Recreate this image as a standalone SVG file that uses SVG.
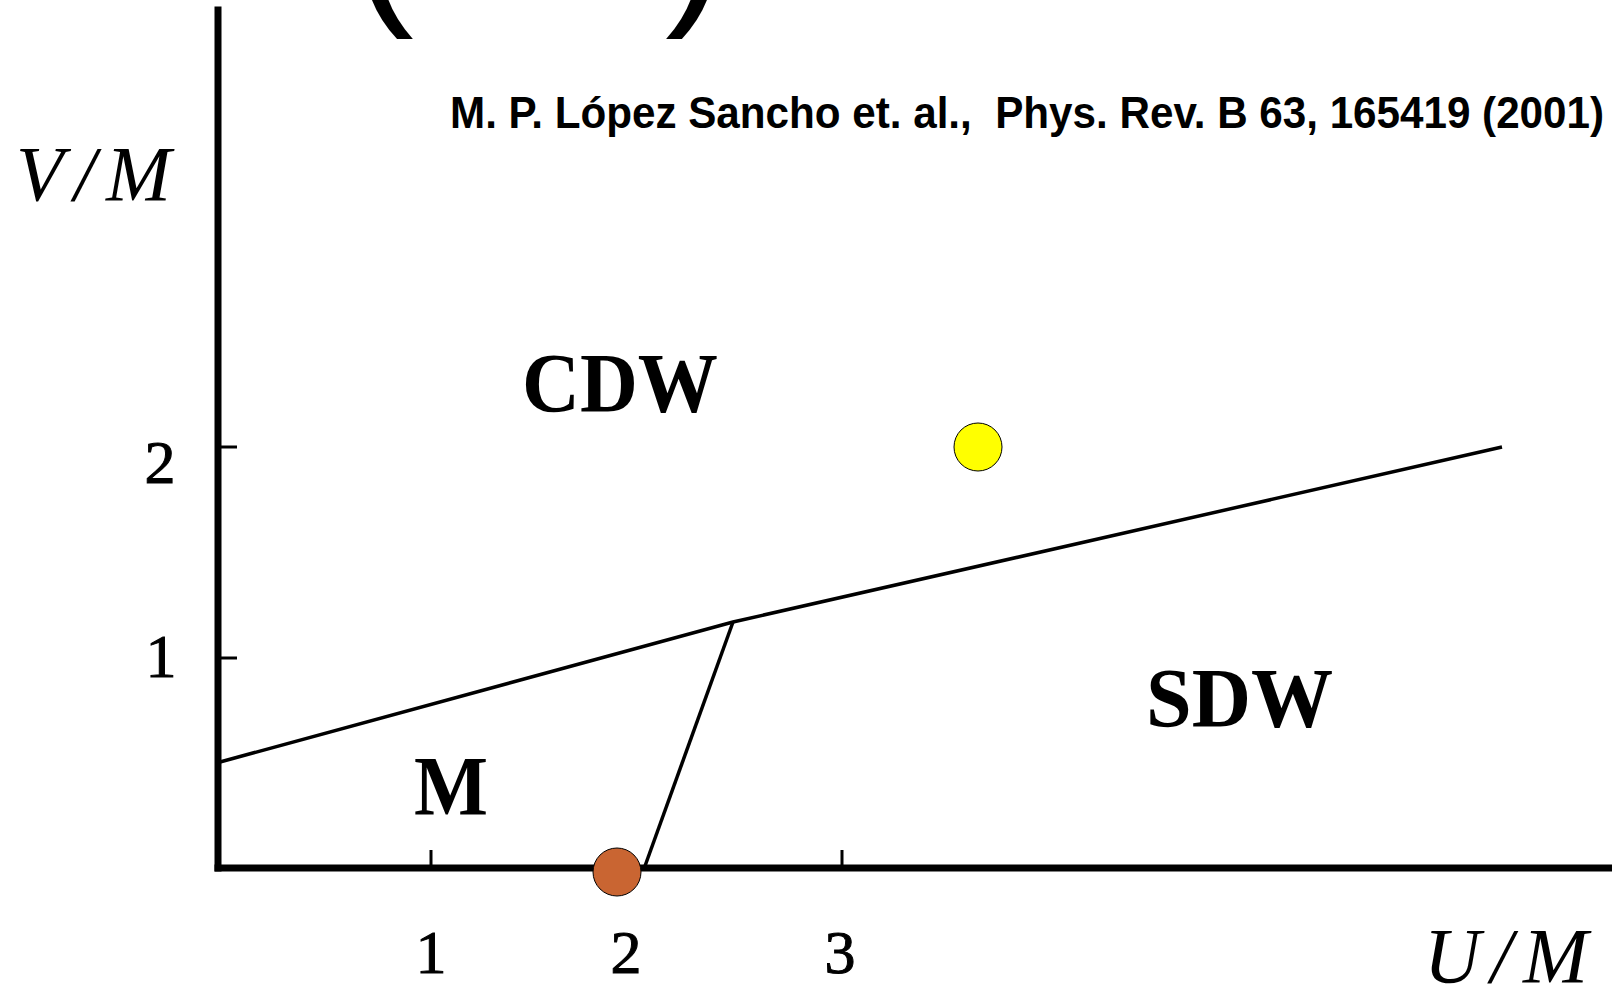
<svg xmlns="http://www.w3.org/2000/svg" width="1612" height="1002" viewBox="0 0 1612 1002">
<style>
.serif{font-family:"Liberation Serif","Times New Roman",serif;fill:#000}
.num{font-size:62px;text-anchor:middle;stroke:#000;stroke-width:1}
.region{font-size:84px;font-weight:bold}
.axlabel{font-size:78px;font-style:italic}
.cite{font-family:"Liberation Sans",Arial,sans-serif;font-weight:bold;font-size:45px;fill:#000}
.paren{font-family:"Liberation Sans",Arial,sans-serif;font-size:186px;fill:#000}
.axis{stroke:#000;stroke-width:7;fill:none;stroke-linecap:square}
.tick{stroke:#000;stroke-width:3;fill:none}
.phase{stroke:#000;stroke-width:3.5;fill:none;stroke-linejoin:miter}
</style>
<rect width="1612" height="1002" fill="#fff"/>
<g id="title">
<text class="paren" x="352" y="0">(</text>
<text class="paren" x="665" y="0">)</text>
</g>
<g id="citation">
<text class="cite" x="450" y="128" textLength="1154" lengthAdjust="spacingAndGlyphs" xml:space="preserve">M. P. López Sancho et. al.,  Phys. Rev. B 63, 165419 (2001)</text>
</g>
<g id="axes">
<line class="axis" x1="218" y1="10" x2="218" y2="868"/>
<line class="axis" x1="218" y1="868" x2="1615" y2="868"/>
<line class="tick" x1="218" y1="447" x2="237" y2="447"/>
<line class="tick" x1="218" y1="658" x2="237" y2="658"/>
<line class="tick" x1="431" y1="850" x2="431" y2="868"/>
<line class="tick" x1="842" y1="850" x2="842" y2="868"/>
<text class="serif axlabel" x="16" y="200" textLength="155" lengthAdjust="spacing">V/M</text>
<text class="serif axlabel" x="1424" y="982" textLength="164" lengthAdjust="spacing">U/M</text>
<text class="serif num" x="160" y="483">2</text>
<text class="serif num" x="161" y="677">1</text>
<text class="serif num" x="431" y="973">1</text>
<text class="serif num" x="626" y="973">2</text>
<text class="serif num" x="840" y="973">3</text>
</g>
<g id="connectors">
<polyline class="phase" points="220,762 733,622 1502,447"/>
<line class="phase" x1="733" y1="622" x2="645" y2="866"/>
</g>
<g id="labels">
<text class="serif region" x="522" y="412" textLength="196" lengthAdjust="spacingAndGlyphs">CDW</text>
<text class="serif region" x="1146" y="727" textLength="187" lengthAdjust="spacingAndGlyphs">SDW</text>
<text class="serif region" x="414" y="815" textLength="74" lengthAdjust="spacingAndGlyphs">M</text>
</g>
<g id="point-yellow">
<circle cx="978" cy="447" r="24" fill="#FFFF00" stroke="#000" stroke-width="1"/>
</g>
<g id="point-orange">
<circle cx="617" cy="872" r="24" fill="#C96532" stroke="#000" stroke-width="1"/>
</g>
</svg>
